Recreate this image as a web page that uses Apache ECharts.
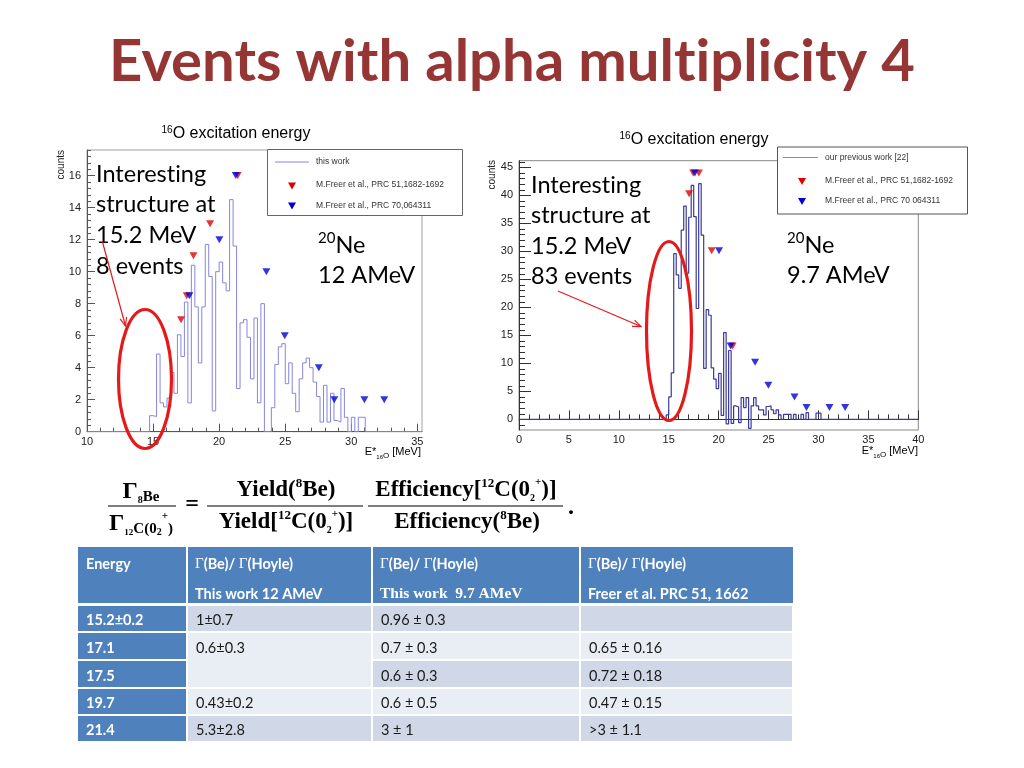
<!DOCTYPE html>
<html>
<head>
<meta charset="utf-8">
<script src="https://cdn.jsdelivr.net/npm/echarts@6/dist/echarts.min.js"></script>
<style>
html,body{margin:0;padding:0;background:#ffffff;}
#chart{width:1024px;height:768px;}
</style>
</head>
<body>
<div id="chart"></div>
<script>
// ---------------- data ----------------
// left histogram (20Ne, 12 AMeV) : counts per bin, starting at firstEdgeLeft
const binWidthLeft = 0.2633;
const firstEdgeLeft = 14.74;
const countsLeft = [1.0, 0.95, 4.85, 1.8, 1.55, 2.1, 3.7, 2.4, 6.05, 4.7, 8.1, 1.8, 10.4, 7.8, 4.3, 7.8, 11.7, 9.7, 1.3, 10.0, 10.6, 9.3, 8.8, 14.5, 11.6, 2.7, 6.8, 7.0, 5.9, 3.3, 7.1, 1.8, 8.0, 0, 0, 1.5, 4.2, 5.3, 5.5, 3.0, 4.3, 2.4, 1.25, 3.3, 4.3, 4.6, 4.0, 3.1, 2.2, 0.6, 2.9, 0.6, 2.4, 0.7, 0.6, 2.7, 0.9, 0, 0.9, 0, 0.9, 0.9];
const leftRange = [10, 35.36];

// right histogram (20Ne, 9.7 AMeV)
const binWidthRight = 0.25;
const firstEdgeRight = 14.75;
const countsRight = [0.8, 4.0, 8.3, 29.6, 25.8, 23.4, 33.8, 38.1, 26.1, 36.1, 41.8, 36.2, 19.8, 42.1, 32.9, 9.1, 19.6, 18.6, 9.2, 7.2, 5.5, 8.2, 0.7, 15.5, -0.8, 12.3, -0.7, 2.4, 2.2, -0.6, 3.9, 2.1, 3.9, -1.6, 2.4, 3.9, 2.4, 1.7, 1.7, 0.8, 2.3, 2.4, 1.7, 1.0, 1.7, 0.8, 0, 0.9, 0.9, 0.9, 0, 0.9, 0, 0, 0.9, 0, 1.2, 0, 0, 0, 1.1, 1.1];
const rightRange = [0, 40];
const rightYRange = [-1.9, 46.2];
const leftYRange = [0, 17.6];

// reference levels (triangles)
const leftRed  = [[17.12, 7.0], [17.55, 8.5], [18.06, 11.0], [19.32, 13.0], [21.41, 16.0]];
const leftBlue = [[17.75, 8.5], [20.02, 12.0], [21.26, 16.0], [23.58, 10.0], [24.97, 6.0], [27.55, 4.0], [28.72, 2.0], [31.0, 2.0], [32.5, 2.0]];
const rightRed  = [[17.04, 40.3], [17.45, 44.0], [18.02, 44.0], [19.3, 30.1], [21.4, 13.1]];
const rightBlue = [[17.62, 44.0], [20.04, 30.1], [21.2, 13.1], [23.65, 10.2], [24.98, 6.1], [27.6, 4.0], [28.8, 2.1], [31.1, 2.1], [32.67, 2.1]];

// tick labels
const leftXTicks = [10, 15, 20, 25, 30, 35];
const leftYTicks = [0, 2, 4, 6, 8, 10, 12, 14, 16];
const rightXTicks = [0, 5, 10, 15, 20, 25, 30, 35, 40];
const rightYTicks = [0, 5, 10, 15, 20, 25, 30, 35, 40, 45];

// table
const tableHead1 = ['Energy', 'Γ(Be)/ Γ(Hoyle)', 'Γ(Be)/ Γ(Hoyle)', 'Γ(Be)/ Γ(Hoyle)'];
const tableHead2 = ['', 'This work 12 AMeV', 'This work  9.7 AMeV', 'Freer et al. PRC 51, 1662'];
const tableEnergy = ['15.2±0.2', '17.1', '17.5', '19.7', '21.4'];
const tableWork12 = ['1±0.7', '0.6±0.3', '', '0.43±0.2', '5.3±2.8'];
const tableWork97 = ['0.96 ± 0.3', '0.7 ± 0.3', '0.6 ± 0.3', '0.6 ± 0.5', '3 ± 1'];
const tableFreer = ['', '0.65 ± 0.16', '0.72 ± 0.18', '0.47 ± 0.15', '>3 ± 1.1'];

// ---------------- helpers ----------------
function histLine(firstEdge, width, counts, range) {
  const pts = [[range[0], 0]];
  for (let i = 0; i < counts.length; i++) pts.push([+(firstEdge + i * width).toFixed(4), counts[i]]);
  pts.push([+(firstEdge + counts.length * width).toFixed(4), 0]);
  pts.push([range[1], 0]);
  return pts;
}
function steps(a, b, s) { const r = []; for (let v = a; v <= b + 1e-9; v += s) r.push(+v.toFixed(3)); return r; }
const NL = '\u200C'; // breaks the "ti" ligature

const rootFont = 'Liberation Sans';
const lblStyle = { fontFamily: rootFont, fontSize: 11, color: '#222' };

function majorAxis(grid, range, ticks, len, margin, color) {
  return {
    type: 'value', gridIndex: grid, min: range[0], max: range[1],
    axisLine: { show: true, lineStyle: { color: color, width: 1 } },
    axisTick: { show: true, inside: true, length: len, customValues: ticks, lineStyle: { color: color } },
    axisLabel: Object.assign({ customValues: ticks, margin: margin }, lblStyle),
    splitLine: { show: false }
  };
}
function minorAxis(grid, range, ticks, len, color, pos) {
  return {
    type: 'value', gridIndex: grid, min: range[0], max: range[1], position: pos,
    axisLine: { show: false },
    axisTick: { show: true, inside: true, length: len, customValues: ticks, lineStyle: { color: color } },
    axisLabel: { show: false },
    splitLine: { show: false }
  };
}

const leftHistColor = '#8585e0';
const rightHistColor = '#3a3a9a';
const redC = '#e00000';
const blueC = '#0000d8';

// ---------------- graphic ----------------
const G = [];
function tx(x, y, text, st) {
  G.push({ type: 'text', z: 100, silent: true,
    style: Object.assign({ x: x, y: y, text: text, fill: '#000', fontFamily: rootFont, fontSize: 12, align: 'left', verticalAlign: 'middle' }, st || {}) });
}
function rect(x, y, w, h, st) { G.push({ type: 'rect', z: 90, silent: true, shape: { x: x, y: y, width: w, height: h }, style: st }); }
function line(x1, y1, x2, y2, st) { G.push({ type: 'line', z: 100, silent: true, shape: { x1: x1, y1: y1, x2: x2, y2: y2 }, style: st }); }
function tri(cx, cy, color) { G.push({ type: 'polygon', z: 101, silent: true, shape: { points: [[cx - 4, cy - 3.5], [cx + 4, cy - 3.5], [cx, cy + 3.5]] }, style: { fill: color } }); }
function arrow(x1, y1, x2, y2, color) {
  line(x1, y1, x2, y2, { stroke: color, lineWidth: 1.2 });
  const a = Math.atan2(y2 - y1, x2 - x1), L = 9, s = 0.38;
  G.push({ type: 'polyline', z: 100, silent: true, shape: { points: [[x2 - L * Math.cos(a - s), y2 - L * Math.sin(a - s)], [x2, y2], [x2 - L * Math.cos(a + s), y2 - L * Math.sin(a + s)]] }, style: { stroke: color, lineWidth: 1.2, fill: 'none' } });
}

// title
tx(512, 62, 'Events with alpha mult' + NL + 'iplicity 4', { fontFamily: 'Lato', fontWeight: 'bold', fontSize: 58, fill: '#963634', align: 'center' });

// chart titles
const titleRich = { s: { fontFamily: rootFont, fontSize: 10, verticalAlign: 'top', lineHeight: 18 }, t: { fontFamily: rootFont, fontSize: 16, lineHeight: 18 } };
tx(236, 134, '{s|16}{t|O excitation energy}', { align: 'center', rich: titleRich });
tx(694, 140, '{s|16}{t|O excitation energy}', { align: 'center', rich: titleRich });

// axis titles
G.push({ type: 'text', z: 100, silent: true, x: 61, y: 150, rotation: Math.PI / 2, style: { x: 0, y: 0, text: 'counts', fontFamily: rootFont, fontSize: 10, fill: '#222', align: 'right', verticalAlign: 'middle' } });
G.push({ type: 'text', z: 100, silent: true, x: 492, y: 160, rotation: Math.PI / 2, style: { x: 0, y: 0, text: 'counts', fontFamily: rootFont, fontSize: 10, fill: '#222', align: 'right', verticalAlign: 'middle' } });
const xtRich = { a: { fontFamily: rootFont, fontSize: 11, lineHeight: 16 }, b: { fontFamily: rootFont, fontSize: 6, verticalAlign: 'bottom', lineHeight: 12 }, c: { fontFamily: rootFont, fontSize: 8, verticalAlign: 'bottom', lineHeight: 10 } };
tx(421, 452, '{a|E*}{b|16}{c|O}{a| [MeV]}', { align: 'right', rich: xtRich });
tx(918, 451, '{a|E*}{b|16}{c|O}{a| [MeV]}', { align: 'right', rich: xtRich });

// legends
rect(267.5, 149.5, 195, 66, { fill: '#fff', stroke: '#666', lineWidth: 1 });
line(275, 162, 309, 162, { stroke: leftHistColor, lineWidth: 1 });
tx(316, 162, 'this work', { fontSize: 8.5, fill: '#333' });
tri(292, 186, redC); tx(316, 185, 'M.Freer et al., PRC 51,1682-1692', { fontSize: 8.5, fill: '#333' });
tri(292, 206, blueC); tx(316, 205.5, 'M.Freer et al., PRC 70,064311', { fontSize: 8.5, fill: '#333' });

rect(777.5, 147, 190, 67, { fill: '#fff', stroke: '#555', lineWidth: 1 });
line(783, 157.5, 818, 157.5, { stroke: '#8a8ab8', lineWidth: 1.2 });
tx(825, 157.5, 'our previous work [22]', { fontSize: 8.5, fill: '#333' });
tri(802, 181.5, redC); tx(825, 181, 'M.Freer et al., PRC 51,1682-1692', { fontSize: 8.5, fill: '#333' });
tri(802, 201.5, blueC); tx(825, 201, 'M.Freer et al., PRC 70 064311', { fontSize: 8.5, fill: '#333' });

// annotations
const annFont = { fontFamily: 'Lato', fontSize: 23.5, fill: '#000' };
['Interest' + NL + 'ing', 'structure at', '15.2 MeV', '8 events'].forEach((s, i) => tx(96, 174 + i * 30.7, s, annFont));
['Interest' + NL + 'ing', 'structure at', '15.2 MeV', '83 events'].forEach((s, i) => tx(531, 185 + i * 30.5, s, annFont));
const neRich = { s: { fontFamily: 'Lato', fontSize: 15, verticalAlign: 'top', lineHeight: 28 }, n: { fontFamily: 'Lato', fontSize: 23.5, lineHeight: 28 } };
tx(318, 245, '{s|20}{n|Ne}', { rich: neRich });
tx(318, 275, '12 AMeV', annFont);
tx(787, 245, '{s|20}{n|Ne}', { rich: neRich });
tx(787, 275, '9.7 AMeV', annFont);

// ellipses and arrows
G.push({ type: 'ellipse', z: 100, silent: true, shape: { cx: 145, cy: 379, rx: 26.5, ry: 69.5 }, style: { fill: 'none', stroke: '#e41a1a', lineWidth: 3.2 } });
G.push({ type: 'ellipse', z: 100, silent: true, shape: { cx: 669, cy: 331, rx: 22.5, ry: 89.5 }, style: { fill: 'none', stroke: '#e41a1a', lineWidth: 3.2 } });
arrow(102.5, 242, 125.5, 326, '#e41a1a');
arrow(558, 291, 641, 326.5, '#e41a1a');

// formula
const fm = { fontFamily: 'Liberation Serif', fontWeight: 'bold' };
const fRich = {
  m: Object.assign({ fontSize: 23, lineHeight: 26 }, fm),
  g: Object.assign({ fontSize: 24, lineHeight: 26 }, fm),
  sup: Object.assign({ fontSize: 13, lineHeight: 13, verticalAlign: 'top' }, fm),
  sub: Object.assign({ fontSize: 15, lineHeight: 15, verticalAlign: 'bottom' }, fm),
  subs: Object.assign({ fontSize: 10, lineHeight: 20, verticalAlign: 'bottom' }, fm),
  subsup: Object.assign({ fontSize: 9, lineHeight: 9, verticalAlign: 'bottom' }, fm),
  ss: Object.assign({ fontSize: 10, lineHeight: 10, verticalAlign: 'bottom' }, fm),
  sp: Object.assign({ fontSize: 11, lineHeight: 11, verticalAlign: 'top' }, fm)
};
tx(141, 492, '{g|Γ}{subs|8}{sub|Be}', { align: 'center', rich: fRich });
line(108, 506, 176, 506, { stroke: '#000', lineWidth: 1.2 });
tx(141, 524, '{g|Γ}{subsup|12}{sub|C(0}{ss|2}{sp|+}{sub|)}', { align: 'center', rich: fRich });
tx(192, 505, '=', { align: 'center', fontFamily: 'Liberation Serif', fontWeight: 'bold', fontSize: 24 });
tx(286, 490, '{m|Yield(}{sup|8}{m|Be)}', { align: 'center', rich: fRich });
line(207, 506, 363, 506, { stroke: '#000', lineWidth: 1.2 });
tx(286, 522, '{m|Yield[}{sup|12}{m|C(0}{ss|2}{sp|+}{m|)]}', { align: 'center', rich: fRich });
tx(466, 490, '{m|Efficiency[}{sup|12}{m|C(0}{ss|2}{sp|+}{m|)]}', { align: 'center', rich: fRich });
line(368, 506, 563, 506, { stroke: '#000', lineWidth: 1.2 });
tx(467, 522, '{m|Efficiency(}{sup|8}{m|Be)}', { align: 'center', rich: fRich });
tx(568, 508, '.', { fontFamily: 'Liberation Serif', fontWeight: 'bold', fontSize: 24 });

// table
const colX = [78, 187, 372, 580, 793];
const rowY = [[606, 631], [633, 659], [661, 687], [689, 714], [716, 741]];
const blueHead = '#4f81bd', dark = '#d0d8e8', light = '#e9edf4';
const rowShade = [dark, light, dark, light, dark];
rect(colX[0], 547, colX[4] - colX[0], 56, { fill: blueHead });
for (let c = 1; c < 4; c++) rect(colX[c] - 1, 547, 2, 56, { fill: '#fff' });
for (let r = 0; r < 5; r++) {
  const [y0, y1] = rowY[r];
  rect(colX[0], y0, colX[1] - colX[0] - 1, y1 - y0, { fill: blueHead });
  for (let c = 1; c < 4; c++) {
    if (c === 1 && r === 2) continue;
    let fill = rowShade[r], h = y1 - y0;
    if (c === 1 && r === 1) { fill = light; h = rowY[2][1] - y0; }
    rect(colX[c] + 1, y0, colX[c + 1] - colX[c] - 2, h, { fill: fill });
  }
}
const thRich = { g: { fontFamily: 'Liberation Serif', fontSize: 15, fill: '#fff' }, b: { fontFamily: 'Lato', fontWeight: 'bold', fontSize: 14.5, fill: '#fff' } };
tx(86, 564, tableHead1[0], { fontFamily: 'Lato', fontWeight: 'bold', fontSize: 14.5, fill: '#fff' });
for (let c = 1; c < 4; c++) {
  tx(colX[c] + 8, 564, '{g|Γ}{b|(Be)/ }{g|Γ}{b|(Hoyle)}', { rich: thRich });
  const isSerif = c === 2;
  tx(colX[c] + 8, 594, tableHead2[c], isSerif ? { fontFamily: 'Liberation Serif', fontWeight: 'bold', fontSize: 15.5, fill: '#fff' } : { fontFamily: 'Lato', fontWeight: 'bold', fontSize: 14.5, fill: '#fff' });
}
const bodyFont = { fontFamily: 'Lato', fontSize: 14.5, fill: '#1a1a1a' };
for (let r = 0; r < 5; r++) {
  const yc = (rowY[r][0] + rowY[r][1]) / 2 + 2;
  tx(86, yc, tableEnergy[r], { fontFamily: 'Lato', fontWeight: 'bold', fontSize: 14.5, fill: '#fff' });
  tx(colX[1] + 9, yc, tableWork12[r], bodyFont);
  tx(colX[2] + 9, yc, tableWork97[r], bodyFont);
  tx(colX[3] + 9, yc, tableFreer[r], bodyFont);
}

// ---------------- chart ----------------
const chart = echarts.init(document.getElementById('chart'), null, { renderer: 'canvas', width: 1024, height: 768 });
const option = {
  animation: false,
  backgroundColor: '#ffffff',
  grid: [
    { left: 87, top: 150, width: 335, height: 281.7, show: true, borderColor: '#a0a0a0', borderWidth: 1, backgroundColor: 'transparent' },
    { left: 519, top: 160.7, width: 399.3, height: 269.3, show: true, borderColor: '#888', borderWidth: 1, backgroundColor: 'transparent' }
  ],
  xAxis: [
    majorAxis(0, leftRange, leftXTicks, 8, 5, '#555'),
    minorAxis(0, leftRange, steps(10, 35, 1), 4, '#555', 'bottom'),
    majorAxis(1, rightRange, rightXTicks, 9, 4, '#333'),
    minorAxis(1, rightRange, steps(0, 40, 1), 5, '#333', 'bottom')
  ],
  yAxis: [
    majorAxis(0, leftYRange, leftYTicks, 8, 6, '#555'),
    minorAxis(0, leftYRange, steps(0, 17.6, 0.4), 4, '#555', 'left'),
    majorAxis(1, rightYRange, rightYTicks, 12, 6, '#333'),
    minorAxis(1, rightYRange, steps(-1, 46, 1), 6, '#333', 'left')
  ],
  series: [
    { type: 'line', xAxisIndex: 0, yAxisIndex: 0, step: 'end', symbol: 'none', data: histLine(firstEdgeLeft, binWidthLeft, countsLeft, leftRange), lineStyle: { color: leftHistColor, width: 1 }, z: 3 },
    { type: 'line', xAxisIndex: 2, yAxisIndex: 2, step: 'end', symbol: 'none', data: histLine(firstEdgeRight, binWidthRight, countsRight, rightRange), lineStyle: { color: rightHistColor, width: 1.2 }, z: 3 },
    { type: 'scatter', xAxisIndex: 0, yAxisIndex: 0, symbol: 'triangle', symbolRotate: 180, symbolSize: [8, 7], itemStyle: { color: redC }, data: leftRed, z: 4 },
    { type: 'scatter', xAxisIndex: 0, yAxisIndex: 0, symbol: 'triangle', symbolRotate: 180, symbolSize: [8, 7], itemStyle: { color: blueC }, data: leftBlue, z: 4 },
    { type: 'scatter', xAxisIndex: 2, yAxisIndex: 2, symbol: 'triangle', symbolRotate: 180, symbolSize: [8, 7], itemStyle: { color: redC }, data: rightRed, z: 4 },
    { type: 'scatter', xAxisIndex: 2, yAxisIndex: 2, symbol: 'triangle', symbolRotate: 180, symbolSize: [8, 7], itemStyle: { color: blueC }, data: rightBlue, z: 4 }
  ],
  graphic: { elements: G }
};
chart.setOption(option);
</script>
</body>
</html>
